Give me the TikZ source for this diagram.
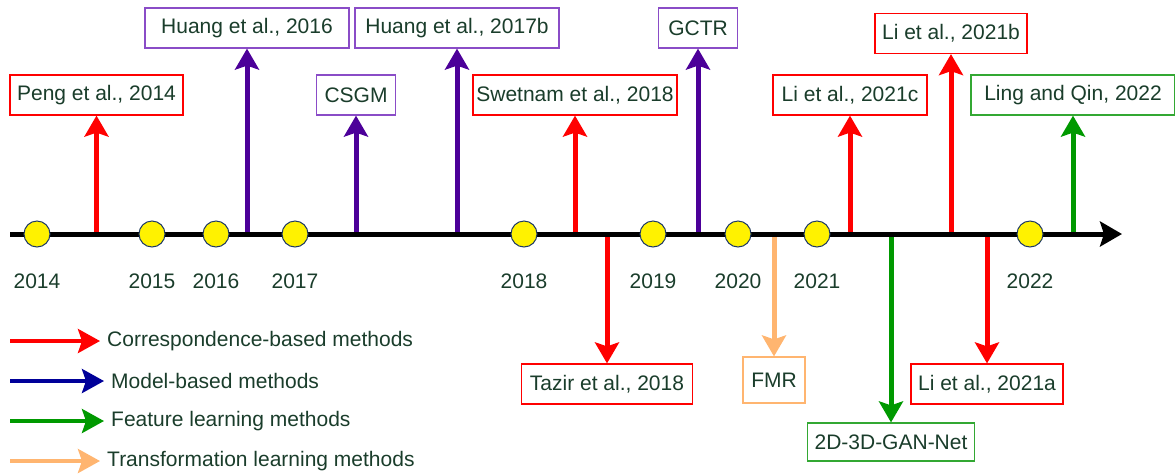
\documentclass[tikz,border=0pt]{standalone}
\usepackage{fontspec}
\setmainfont{Liberation Sans}
\usetikzlibrary{arrows.meta}
\definecolor{txtgreen}{HTML}{1A3D2B}
\definecolor{corrred}{HTML}{FF0000}
\definecolor{modelpurple}{HTML}{4C0099}
\definecolor{modelbox}{HTML}{8A4CC7}
\definecolor{featgreen}{HTML}{009900}
\definecolor{featbox}{HTML}{33A833}
\definecolor{transorange}{HTML}{FFB570}
\definecolor{legendblue}{HTML}{000099}
\definecolor{dotline}{HTML}{1F3A66}
\begin{document}
\begin{tikzpicture}[x=1pt,y=-1pt,
  font=\fontsize{21}{24}\selectfont, text=txtgreen,
  year/.style={circle, fill=yellow, draw=dotline, line width=1pt, minimum size=26pt, inner sep=0pt},
  paper/.style={draw, line width=1.2pt, fill=white, minimum height=40pt, inner sep=0pt},
  tip/.style={-{Stealth[length=21pt, width=24pt, inset=4pt]}, line width=5pt},
  legtip/.style={-{Stealth[length=22pt, width=24pt, inset=4pt]}, line width=4pt, shorten >=7pt}]
\useasboundingbox (0,0) rectangle (1175,475);
% papers above the line
\node[paper, draw=corrred, minimum width=173pt] (peng) at (96.5,95) {Peng et al., 2014};
\node[paper, draw=modelbox, minimum width=204pt] (huang16) at (247,28) {Huang et al., 2016};
\node[paper, draw=modelbox, minimum width=79pt] (csgm) at (356,95) {CSGM};
\node[paper, draw=modelbox, minimum width=204pt] (huang17) at (457,28) {Huang et al., 2017b};
\node[paper, draw=corrred, minimum width=204pt] (swetnam) at (575,95) {Swetnam et al., 2018};
\node[paper, draw=modelbox, minimum width=79pt] (gctr) at (698,28) {GCTR};
\node[paper, draw=corrred, minimum width=154pt] (li21c) at (850,95) {Li et al., 2021c};
\node[paper, draw=corrred, minimum width=152pt] (li21b) at (951,33.5) {Li et al., 2021b};
\node[paper, draw=featbox, minimum width=204pt] (ling) at (1073,95) {Ling and Qin, 2022};
% papers below the line
\node[paper, draw=corrred, minimum width=171pt] (tazir) at (607,384) {Tazir et al., 2018};
\node[paper, draw=transorange, minimum width=62pt, minimum height=46pt] (fmr) at (774,380) {FMR};
\node[paper, draw=featbox, minimum width=167pt, minimum height=38pt] (gan) at (891,442) {2D-3D-GAN-Net};
\node[paper, draw=corrred, minimum width=152pt] (li21a) at (987,384) {Li et al., 2021a};
% stems
\coordinate (speng) at (96.5,234);
\coordinate (shuang16) at (247,234);
\coordinate (scsgm) at (356,234);
\coordinate (shuang17) at (457,234);
\coordinate (sswetnam) at (575,234);
\coordinate (sgctr) at (698,234);
\coordinate (sli21c) at (850,234);
\coordinate (sli21b) at (951,234);
\coordinate (sling) at (1073,234);
\coordinate (stazir) at (607,234);
\coordinate (sfmr) at (774,234);
\coordinate (sgan) at (891,234);
\coordinate (sli21a) at (987,234);
\draw[tip, corrred] (speng) -- (peng);
\draw[tip, modelpurple] (shuang16) -- (huang16);
\draw[tip, modelpurple] (scsgm) -- (csgm);
\draw[tip, modelpurple] (shuang17) -- (huang17);
\draw[tip, corrred] (sswetnam) -- (swetnam);
\draw[tip, modelpurple] (sgctr) -- (gctr);
\draw[tip, corrred] (sli21c) -- (li21c);
\draw[tip, corrred] (sli21b) -- (li21b);
\draw[tip, featgreen] (sling) -- (ling);
\draw[tip, corrred] (stazir) -- (tazir);
\draw[tip, transorange] (sfmr) -- (fmr);
\draw[tip, featgreen] (sgan) -- (gan);
\draw[tip, corrred] (sli21a) -- (li21a);
% time line
\coordinate (tstart) at (10,234);
\coordinate (tend) at (1122,234);
\draw[line width=5pt, -{Stealth[length=22pt, width=25pt, inset=4pt]}] (tstart) -- (tend);
\foreach \yr/\x in {2014/37, 2015/152, 2016/216, 2017/295, 2018/524, 2019/653, 2020/738, 2021/817, 2022/1030}{
  \node[year] (y\yr) at (\x,234) {};
  \node (l\yr) at (\x,281) {\yr};
}
% legend
\foreach \i/\col/\x/\y/\txt in {1/corrred/107/341/Correspondence-based methods,
  2/legendblue/111/381/Model-based methods,
  3/featgreen/111/421/Feature learning methods,
  4/transorange/107/461/Transformation learning methods}{
  \coordinate (lg\i) at (10,\y);
  \node[anchor=west, inner sep=0pt] (lt\i) at (\x,\y) {\txt};
  \draw[legtip, \col] (lg\i) -- (lg\i -| lt\i.west);
}
\end{tikzpicture}
\end{document}
